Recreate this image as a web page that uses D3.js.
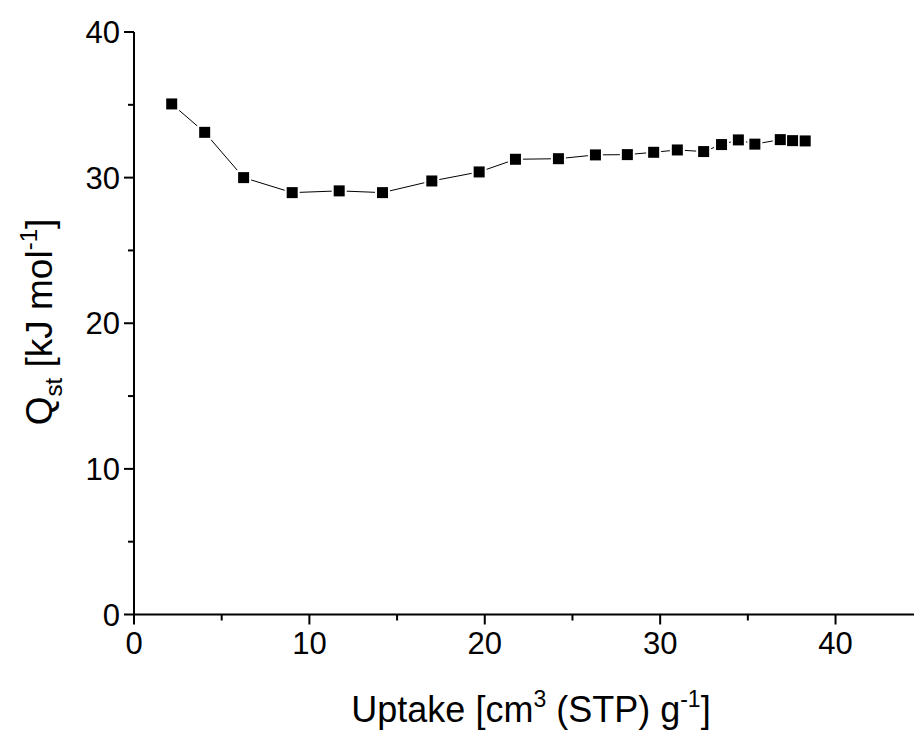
<!DOCTYPE html>
<html><head><meta charset="utf-8">
<script src="https://cdn.jsdelivr.net/npm/d3@7"></script>
<style>body{margin:0;background:#fff}svg{display:block}text{font-family:"Liberation Sans",Arial,sans-serif;fill:#000}</style>
</head><body><svg id="c" width="916" height="740"></svg>
<script>
const uptake = [2.15,4.03,6.25,9.02,11.70,14.17,16.98,19.68,21.75,24.2,26.31,28.13,29.63,30.98,32.48,33.5,34.46,35.4,36.85,37.55,38.27];
const qst    = [35.06,33.11,30.0,28.97,29.09,28.97,29.77,30.39,31.26,31.3,31.56,31.58,31.74,31.9,31.79,32.27,32.59,32.3,32.61,32.54,32.52];
const xTicks = [0,10,20,30,40];
const yTicks = [0,10,20,30,40];
const xMinor = [5,15,25,35];
const yMinor = [5,15,25,35];

const svg = d3.select("#c");
const x = d3.scaleLinear().domain([0,45.5]).range([134,932]);
const y = d3.scaleLinear().domain([0,40]).range([614.5,32]);
const data = uptake.map((u,i)=>({u,q:qst[i]}));

svg.append("path").datum(data)
  .attr("d", d3.line().x(d=>x(d.u)).y(d=>y(d.q)))
  .attr("fill","none").attr("stroke","#000").attr("stroke-width",1);

const g = svg.append("g");
g.selectAll("rect.bg").data(data).join("rect").attr("class","bg")
  .attr("x",d=>x(d.u)-7.5).attr("y",d=>y(d.q)-7.5).attr("width",15).attr("height",15).attr("fill","#fff");
g.selectAll("rect.m").data(data).join("rect").attr("class","m")
  .attr("x",d=>x(d.u)-5.5).attr("y",d=>y(d.q)-5.5).attr("width",11).attr("height",11).attr("fill","#000");

const ax = svg.append("g");
ax.append("line").attr("x1",x(0)).attr("x2",914).attr("y1",y(0)).attr("y2",y(0)).attr("stroke","#000").attr("stroke-width",2);
ax.append("line").attr("x1",x(0)).attr("x2",x(0)).attr("y1",y(0)+1).attr("y2",y(40)).attr("stroke","#000").attr("stroke-width",2);

const fs = 31;
xTicks.forEach(t=>{
  ax.append("line").attr("x1",x(t)).attr("x2",x(t)).attr("y1",y(0)).attr("y2",y(0)+10).attr("stroke","#000").attr("stroke-width",2);
  ax.append("text").attr("x",x(t)).attr("y",y(0)+39).attr("text-anchor","middle").attr("font-size",fs).text(t);
});
xMinor.forEach(t=>{
  ax.append("line").attr("x1",x(t)).attr("x2",x(t)).attr("y1",y(0)).attr("y2",y(0)+6).attr("stroke","#000").attr("stroke-width",2);
});
yTicks.forEach(t=>{
  ax.append("line").attr("x1",x(0)).attr("x2",x(0)-10).attr("y1",y(t)).attr("y2",y(t)).attr("stroke","#000").attr("stroke-width",2);
  ax.append("text").attr("x",x(0)-14).attr("y",y(t)+11).attr("text-anchor","end").attr("font-size",fs).text(t);
});
yMinor.forEach(t=>{
  ax.append("line").attr("x1",x(0)).attr("x2",x(0)-6).attr("y1",y(t)).attr("y2",y(t)).attr("stroke","#000").attr("stroke-width",2);
});

const tf = 36, sf = 23;
const xt = svg.append("text").attr("x",531).attr("y",722).attr("text-anchor","middle").attr("font-size",tf);
xt.append("tspan").text("Uptake [cm");
xt.append("tspan").attr("dy",-15).attr("font-size",sf).text("3");
xt.append("tspan").attr("dy",15).text(" (STP) g");
xt.append("tspan").attr("dy",-15).attr("font-size",sf).text("-1");
xt.append("tspan").attr("dy",15).text("]");

const yt = svg.append("text").attr("transform","translate(52,322) rotate(-90)").attr("text-anchor","middle").attr("font-size",37);
yt.append("tspan").text("Q");
yt.append("tspan").attr("dy",10).attr("font-size",24).text("st");
yt.append("tspan").attr("dy",-10).text(" [kJ mol");
yt.append("tspan").attr("dy",-15).attr("font-size",24).text("-1");
yt.append("tspan").attr("dy",15).text("]");
</script></body></html>
